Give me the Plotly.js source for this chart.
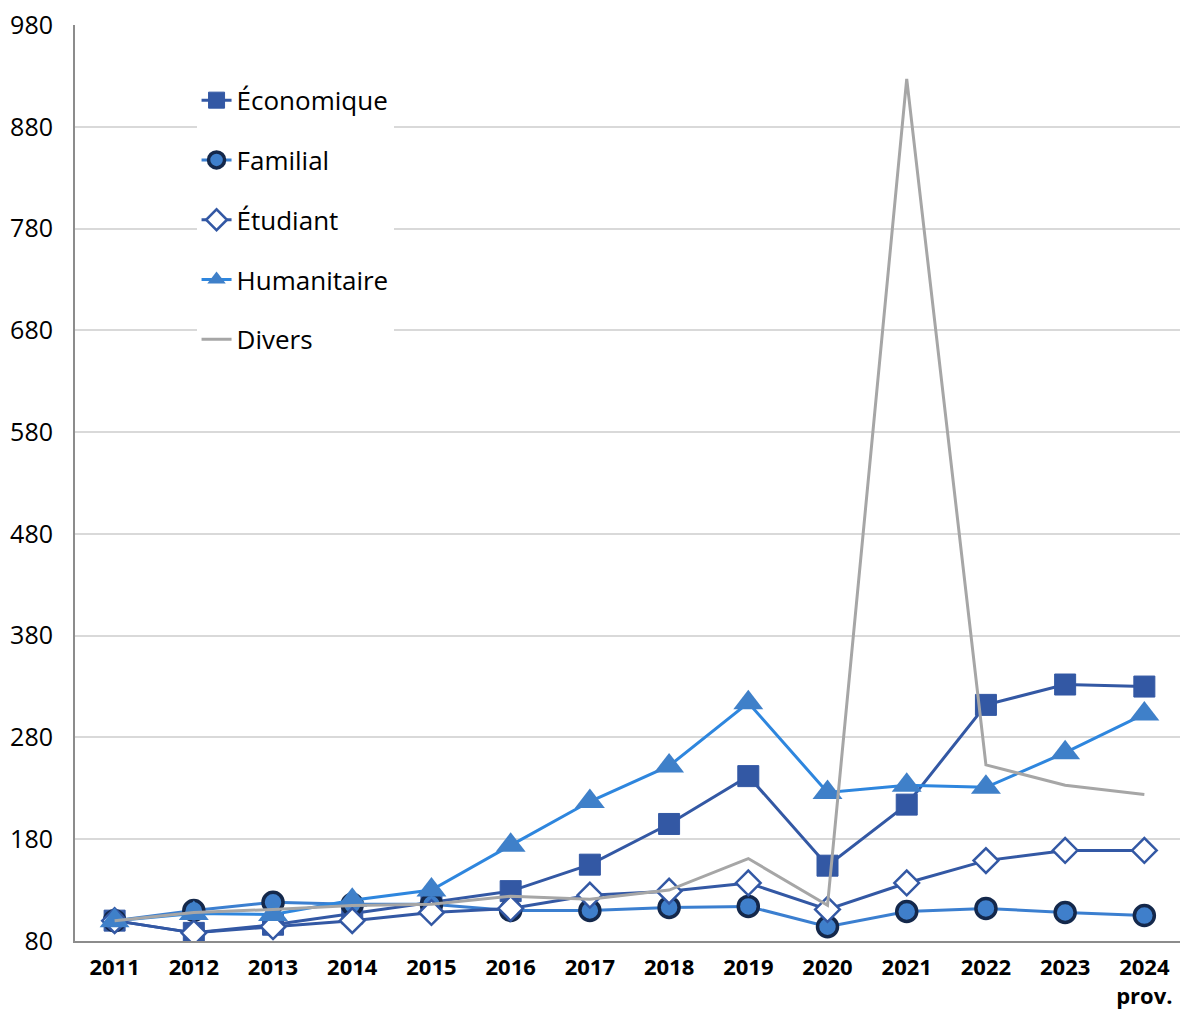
<!DOCTYPE html>
<html>
<head>
<meta charset="utf-8">
<script src="https://cdn.plot.ly/plotly-3.0.1.min.js"></script>
<style>
  html, body { margin: 0; padding: 0; background: #ffffff; }
  #chart { width: 1180px; height: 1012px; }
</style>
</head>
<body>
<div id="chart"></div>
<script>
// Index (base 100 en 2011) par motif
const years = ['2011', '2012', '2013', '2014', '2015', '2016', '2017', '2018', '2019', '2020', '2021', '2022', '2023', '2024'];
const yearLabels = ['2011', '2012', '2013', '2014', '2015', '2016', '2017', '2018', '2019', '2020', '2021', '2022', '2023', '2024<br>prov.'];

const economique  = [100, 88, 96, 107, 118, 129, 155, 195, 242, 154, 214, 312, 332, 330];
const familial    = [100, 110, 118, 116, 116, 110, 110, 113, 114, 94, 109, 112, 108, 105];
const etudiant    = [100, 88, 94, 100, 108, 112, 125, 129, 137, 111, 137, 159, 169, 169];
const humanitaire = [100, 107, 106, 120, 130, 174, 217, 252, 314, 226, 233, 231, 265, 303];
const divers      = [100, 108, 111, 115, 116, 124, 121, 130, 161, 115, 927, 253, 233, 224];

const yTicks = [80, 180, 280, 380, 480, 580, 680, 780, 880, 980];

const FONT = 'Open Sans, Lato, sans-serif';

const traces = [
  {
    name: 'Économique', x: years, y: economique, legendgroup: 'a',
    mode: 'lines+markers',
    line: { color: '#3358a4', width: 3 },
    marker: { symbol: 'square', size: 21, color: '#3358a4', line: { color: '#3358a4', width: 1 } }
  },
  {
    name: 'Familial', x: years, y: familial, legendgroup: 'b',
    mode: 'lines+markers',
    line: { color: '#3b7fd0', width: 3 },
    marker: { symbol: 'circle', size: 20, color: '#3f7fcb', line: { color: '#14284b', width: 3.5 } }
  },
  {
    name: 'Étudiant', x: years, y: etudiant, legendgroup: 'c',
    mode: 'lines+markers',
    line: { color: '#3358a4', width: 3 },
    marker: { symbol: 'diamond', size: 19, color: '#ffffff', line: { color: '#3358a4', width: 2.5 } }
  },
  {
    name: 'Humanitaire', x: years, y: humanitaire, legendgroup: 'd',
    mode: 'lines+markers',
    line: { color: '#2e86de', width: 3 },
    marker: { symbol: 'triangle-up', size: 26, color: '#3f80c9', line: { width: 0 } }
  },
  {
    name: 'Divers', x: years, y: divers, legendgroup: 'e',
    mode: 'lines',
    line: { color: '#a6a6a6', width: 3 }
  }
];

const layout = {
  width: 1180,
  height: 1012,
  margin: { l: 75, r: 0, t: 25, b: 71 },
  paper_bgcolor: '#ffffff',
  plot_bgcolor: '#ffffff',
  font: { family: FONT, color: '#000000', size: 20 },
  showlegend: true,
  legend: {
    x: 0.11, y: 0.9435, xanchor: 'left', yanchor: 'top',
    bgcolor: '#ffffff',
    font: { family: FONT, size: 26, color: '#000000' },
    tracegroupgap: 23,
    traceorder: 'grouped',
    itemwidth: 30
  },
  xaxis: {
    type: 'category',
    range: [-0.5, 13.45],
    tickvals: years,
    ticktext: yearLabels,
    showgrid: false,
    showline: true,
    linecolor: '#8c8c8c',
    linewidth: 2,
    ticks: '',
    ticklabelstandoff: 6,
    tickfont: { family: FONT, size: 22, color: '#000000', weight: 'bold' },
    zeroline: false,
    fixedrange: true
  },
  yaxis: {
    range: [80, 980],
    tickvals: yTicks,
    showgrid: true,
    gridcolor: '#d9d9d9',
    gridwidth: 2,
    showline: true,
    linecolor: '#8c8c8c',
    linewidth: 2,
    ticks: '',
    ticklabelstandoff: 15,
    tickfont: { family: FONT, size: 25, color: '#000000' },
    zeroline: false,
    fixedrange: true
  }
};

Plotly.newPlot('chart', traces, layout, { displayModeBar: false, staticPlot: true });
</script>
</body>
</html>
